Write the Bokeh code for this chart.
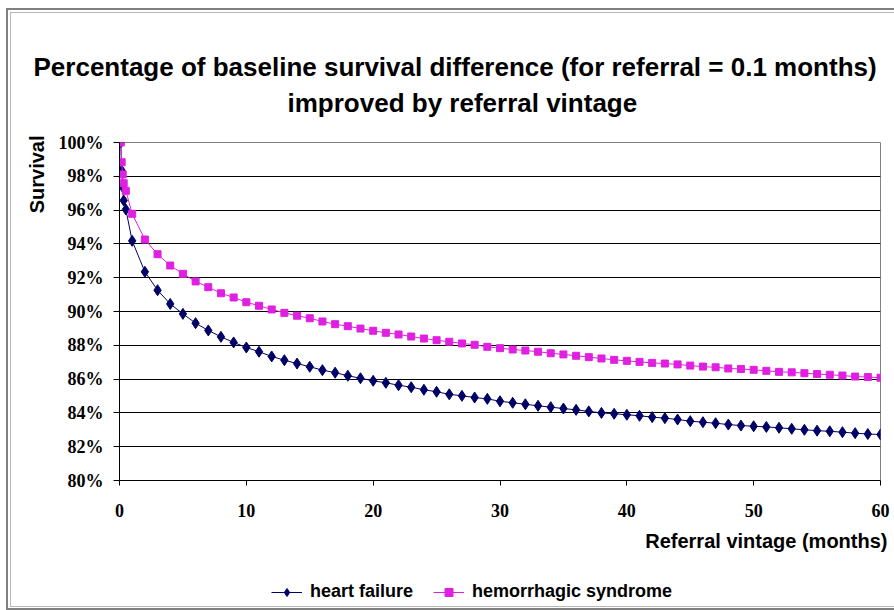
from bokeh.plotting import figure
from bokeh.layouts import column
from bokeh.models import (Range1d, NumeralTickFormatter, FixedTicker, Title,
                          Legend, LegendItem)
from bokeh.embed import file_html
from bokeh.resources import INLINE

# ---------------- data ----------------
months = [0.1, 0.17, 0.25, 0.33, 0.5] + list(range(1, 61))

heart_failure = [
    1.000, 0.9834, 0.9736, 0.9657, 0.9604,
    0.9418, 0.9235, 0.9126, 0.9045, 0.8986, 0.8931, 0.8888, 0.8850, 0.8817, 0.8787,
    0.8762, 0.8734, 0.8712, 0.8692, 0.8673, 0.8653, 0.8638, 0.8620, 0.8605, 0.8590,
    0.8578, 0.8564, 0.8552, 0.8537, 0.8525, 0.8510, 0.8501, 0.8491, 0.8483, 0.8469,
    0.8460, 0.8451, 0.8442, 0.8434, 0.8426, 0.8418, 0.8409, 0.8400, 0.8395, 0.8389,
    0.8383, 0.8375, 0.8369, 0.8361, 0.8351, 0.8345, 0.8339, 0.8331, 0.8325, 0.8321,
    0.8317, 0.8312, 0.8306, 0.8300, 0.8295, 0.8291, 0.8286, 0.8280, 0.8275, 0.8272,
]

hemorrhagic_syndrome = [
    1.000, 0.9883, 0.9811, 0.9759, 0.9714,
    0.9578, 0.9426, 0.9339, 0.9272, 0.9223, 0.9178, 0.9144, 0.9108, 0.9083, 0.9055,
    0.9034, 0.9012, 0.8992, 0.8975, 0.8960, 0.8941, 0.8925, 0.8913, 0.8899, 0.8886,
    0.8874, 0.8864, 0.8852, 0.8840, 0.8830, 0.8821, 0.8811, 0.8803, 0.8791, 0.8783,
    0.8775, 0.8769, 0.8762, 0.8753, 0.8746, 0.8738, 0.8730, 0.8722, 0.8714, 0.8708,
    0.8702, 0.8696, 0.8692, 0.8687, 0.8680, 0.8674, 0.8670, 0.8663, 0.8660, 0.8655,
    0.8649, 0.8643, 0.8640, 0.8635, 0.8630, 0.8626, 0.8621, 0.8615, 0.8612, 0.8608,
]

series_names = ["heart failure", "hemorrhagic syndrome"]
x_ticks = [0, 10, 20, 30, 40, 50, 60]
y_ticks = [0.80, 0.82, 0.84, 0.86, 0.88, 0.90, 0.92, 0.94, 0.96, 0.98, 1.00]
grid_ticks = [0.82, 0.84, 0.86, 0.88, 0.90, 0.92, 0.94, 0.96, 0.98]
title_lines = ["Percentage of baseline survival difference (for referral = 0.1 months)",
               "improved by referral vintage"]
y_title = "Survival"
x_title = "Referral vintage (months)"

NAVY = "#000066"
MAGENTA = "#E020E0"
SANS = "Liberation Sans"
SERIF = "Liberation Serif"

# chart-area frame (drawn as CSS background behind the transparent border area)
frame_css = ", ".join([
    "linear-gradient(#808080, #808080) 6px 8px / 2px 602px no-repeat",
    "linear-gradient(#808080, #808080) 6px 8px / 888px 2px no-repeat",
    "linear-gradient(#808080, #808080) 6px 608px / 888px 2px no-repeat",
    "linear-gradient(#b8b8b8, #b8b8b8) 10px 12px / 1px 595px no-repeat",
    "linear-gradient(#b8b8b8, #b8b8b8) 10px 12px / 884px 1px no-repeat",
    "linear-gradient(#b8b8b8, #b8b8b8) 10px 606px / 884px 1px no-repeat",
    "white",
])

# ---------------- main figure ----------------
p = figure(frame_width=761, frame_height=338, output_backend="svg",
           toolbar_location=None,
           x_range=Range1d(0, 60), y_range=Range1d(0.80, 1.00),
           min_border_left=119, min_border_right=14,
           min_border_top=142, min_border_bottom=95, title=None)
p.background_fill_color = "white"
p.border_fill_color = None
p.outline_line_color = "#808080"
p.outline_line_width = 1

for ax in (p.xaxis[0], p.yaxis[0]):
    ax.axis_line_color = "black"
    ax.axis_line_width = 1
    ax.major_tick_line_color = "black"
    ax.major_tick_in = 0
    ax.minor_tick_line_color = None
    ax.major_label_text_font = SERIF
    ax.major_label_text_font_style = "bold"
    ax.major_label_text_font_size = "18px"
    ax.major_label_text_color = "black"

p.xaxis.ticker = FixedTicker(ticks=x_ticks)
p.xaxis.major_tick_out = 5
p.xaxis.major_label_standoff = 18
p.yaxis.ticker = FixedTicker(ticks=y_ticks)
p.yaxis.major_tick_out = 6
p.yaxis.major_label_standoff = 10
p.yaxis.formatter = NumeralTickFormatter(format="0%")

p.xgrid.visible = False
p.ygrid.ticker = FixedTicker(ticks=grid_ticks)
p.ygrid.grid_line_color = "black"
p.ygrid.grid_line_width = 1

line_styles = [dict(line_color=NAVY, line_width=1), dict(line_color=MAGENTA, line_width=1)]
marker_styles = [dict(marker="diamond", size=11, fill_color=NAVY, line_color=NAVY),
                 dict(marker="square", size=7, fill_color=MAGENTA, line_color=MAGENTA)]
series_values = [heart_failure, hemorrhagic_syndrome]

for vals, ls, ms in zip(series_values, line_styles, marker_styles):
    p.line(months, vals, **ls)
    p.scatter(months, vals, **ms)

title_kw = dict(text_font=SANS, text_font_style="bold", text_color="black")
p.add_layout(Title(text=" ", text_font_size="1px", standoff=18), "above")   # spacer
p.add_layout(Title(text=title_lines[1], align="left", offset=168, standoff=8,
                   text_font_size="26px", **title_kw), "above")
p.add_layout(Title(text=title_lines[0], align="left", offset=-86, standoff=0,
                   text_font_size="26px", **title_kw), "above")
p.add_layout(Title(text=y_title, align="right", offset=-7, standoff=16,
                   text_font_size="20px", **title_kw), "left")
p.add_layout(Title(text=x_title, align="right", offset=-7, standoff=16,
                   text_font_size="20px", **title_kw), "below")

# ---------------- legend strip (own small figure below the chart) ----------------
# the series are re-plotted here outside the visible y-range, only to feed the legend
lf = figure(width=894, height=35, output_backend="svg", toolbar_location=None,
            x_axis_type=None, y_axis_type=None, min_border=0, title=None,
            x_range=Range1d(0, 60), y_range=Range1d(2, 3))
lf.background_fill_color = None
lf.border_fill_color = None
lf.outline_line_color = None

items = []
for name, vals, ls, ms in zip(series_names, series_values, line_styles, marker_styles):
    r_line = lf.line(months, vals, **ls)
    r_mark = lf.scatter(months, vals, **ms)
    items.append(LegendItem(label=name, renderers=[r_line, r_mark]))

legend = Legend(items=items, orientation="horizontal", location=(152, 8),
                border_line_color=None, background_fill_alpha=0,
                padding=0, margin=0, spacing=20, label_standoff=8,
                glyph_width=31, glyph_height=20, label_height=20,
                label_text_font=SANS, label_text_font_style="bold",
                label_text_font_size="18px", label_text_color="black")
lf.add_layout(legend, "center")

page = column(p, lf, spacing=0, styles={"background": frame_css})

open("out.html", "w").write(file_html(page, INLINE))
